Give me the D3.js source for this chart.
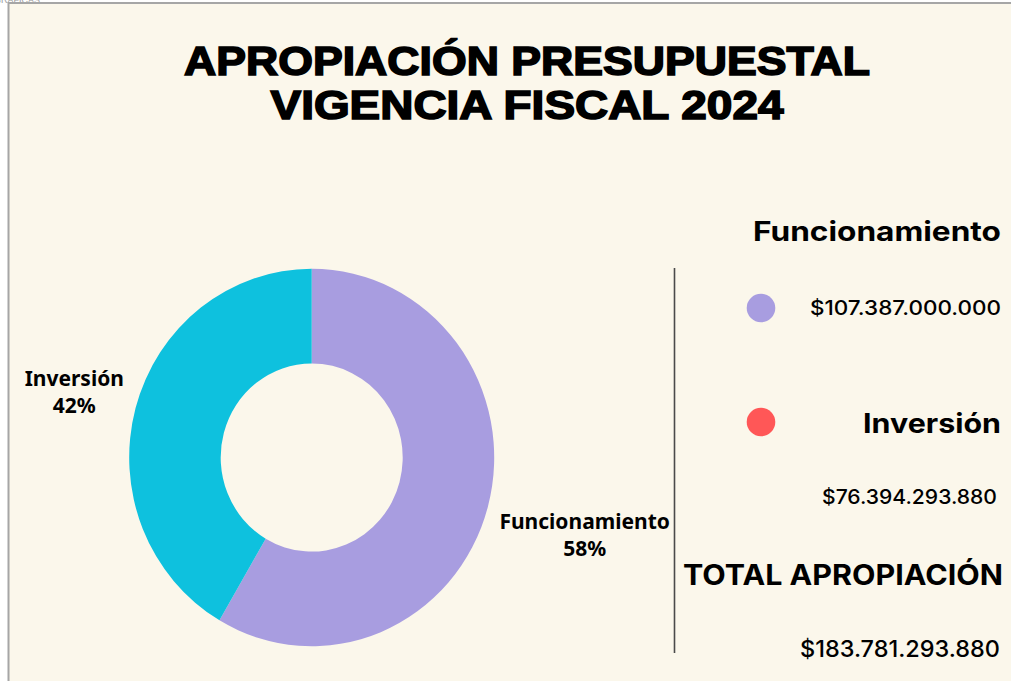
<!DOCTYPE html>
<html lang="es">
<head>
<meta charset="utf-8">
<script src="https://cdn.jsdelivr.net/npm/d3@7"></script>
<style>
  body { margin: 0; background: #fff; }
  svg { display: block; }
  .title { font-family: "Liberation Sans", Arial, sans-serif; font-weight: 700; fill: #000; stroke: #000; stroke-width: 1.6px; }
  .slice-label { font-family: "Noto Sans", "Open Sans", sans-serif; font-weight: 700; font-size: 21px; fill: #000; }
  .head { font-family: Inter, sans-serif; font-weight: 700; fill: #000; }
  .amount { font-family: Inter, sans-serif; font-weight: 500; fill: #000; }
</style>
</head>
<body>
<svg width="1011" height="681"></svg>
<script>
// data
const categories = ["Funcionamiento", "Inversión"];
const values = [107387000000, 76394293880];
const sliceColors = ["#a89de0", "#0ec1de"];
const legendDotColors = ["#a89de0", "#ff5757"];
const titleLines = ["APROPIACIÓN PRESUPUESTAL", "VIGENCIA FISCAL 2024"];
const totalLabel = "TOTAL APROPIACIÓN";

const W = 1011, H = 681;
const svg = d3.select("svg");

const locale = d3.formatLocale({decimal: ",", thousands: ".", grouping: [3], currency: ["$", ""]});
const money = locale.format("$,.0f");
const pct = d3.format(".0%");
const total = d3.sum(values);

// panel + border
svg.append("text").attr("x", -6).attr("y", 2.5)
  .style("font", "9px 'Liberation Sans', sans-serif").style("fill", "#999")
  .text("GRÁFICAS");
svg.append("rect").attr("x", 9).attr("y", 4).attr("width", W - 9).attr("height", H - 4)
  .attr("fill", "#fbf7eb");
svg.append("line").attr("x1", 8).attr("x2", W).attr("y1", 3).attr("y2", 3)
  .attr("stroke", "#a6a6a6").attr("stroke-width", 2);
svg.append("line").attr("x1", 8.5).attr("x2", 8.5).attr("y1", 2).attr("y2", H)
  .attr("stroke", "#a6a6a6").attr("stroke-width", 2);

// title
const titleWidths = [688, 515];
svg.selectAll("text.title").data(titleLines).join("text")
  .attr("class", "title")
  .attr("x", 527)
  .attr("y", (d, i) => 75 + i * 43.5)
  .attr("text-anchor", "middle")
  .attr("font-size", 40)
  .attr("textLength", (d, i) => titleWidths[i] - 2)
  .attr("lengthAdjust", "spacingAndGlyphs")
  .text(d => d);

// donut
const cx = 311.7, cy = 457.5, outerR = 182.5, innerR = 91, yStretch = 1.034;
const pie = d3.pie().sort(null).value(d => d.value);
const arcs = pie(categories.map((c, i) => ({name: c, value: values[i], color: sliceColors[i]})));
const arc = d3.arc().innerRadius(innerR).outerRadius(outerR);

const donut = svg.append("g")
  .attr("transform", `translate(${cx},${cy}) scale(1,${yStretch})`);
donut.selectAll("path").data(arcs).join("path")
  .attr("d", arc)
  .attr("fill", d => d.data.color);

// slice labels, just outside the ring
const labels = svg.append("g").attr("transform", `translate(${cx},${cy})`);
arcs.forEach(a => {
  const mid = (a.startAngle + a.endAngle) / 2;
  const g = labels.append("g");
  const t = g.append("text").attr("class", "slice-label").attr("text-anchor", "middle");
  t.append("tspan").attr("x", 0).attr("y", 0).text(a.data.name);
  t.append("tspan").attr("x", 0).attr("y", 27).text(pct(a.data.value / total));
  const w = t.node().getBBox().width;
  const side = Math.sin(mid) < 0 ? -1 : 1;
  const lx = Math.sin(mid) * (outerR + 12) + side * w / 2;
  const ly = -Math.cos(mid) * (outerR + 80) * yStretch;
  g.attr("transform", `translate(${lx},${ly})`);
});

// divider
svg.append("line").attr("x1", 674.5).attr("x2", 674.5).attr("y1", 268).attr("y2", 653)
  .attr("stroke", "#4a4a4a").attr("stroke-width", 1.6);

// right-hand legend (Inter stretched to the wider look of the original face)
function rightText(cls, x, y, size, width, txt) {
  return svg.append("text").attr("class", cls).attr("x", x).attr("y", y)
    .attr("text-anchor", "end").attr("font-size", size)
    .attr("textLength", width).attr("lengthAdjust", "spacingAndGlyphs")
    .text(txt);
}

rightText("head", 1001, 240.5, 27, 248, categories[0]);
svg.append("circle").attr("cx", 761).attr("cy", 308).attr("r", 14.3).attr("fill", legendDotColors[0]);
rightText("amount", 1001, 315, 20, 191, money(values[0]));

svg.append("circle").attr("cx", 761).attr("cy", 422).attr("r", 14.3).attr("fill", legendDotColors[1]);
rightText("head", 1001, 433, 27, 138, categories[1]);
rightText("amount", 997, 504, 20, 175, money(values[1]));

rightText("head", 1003, 585, 28, 320, totalLabel);
rightText("amount", 1000, 657, 23, 200, money(total)).attr("font-weight", 600);
</script>
</body>
</html>
